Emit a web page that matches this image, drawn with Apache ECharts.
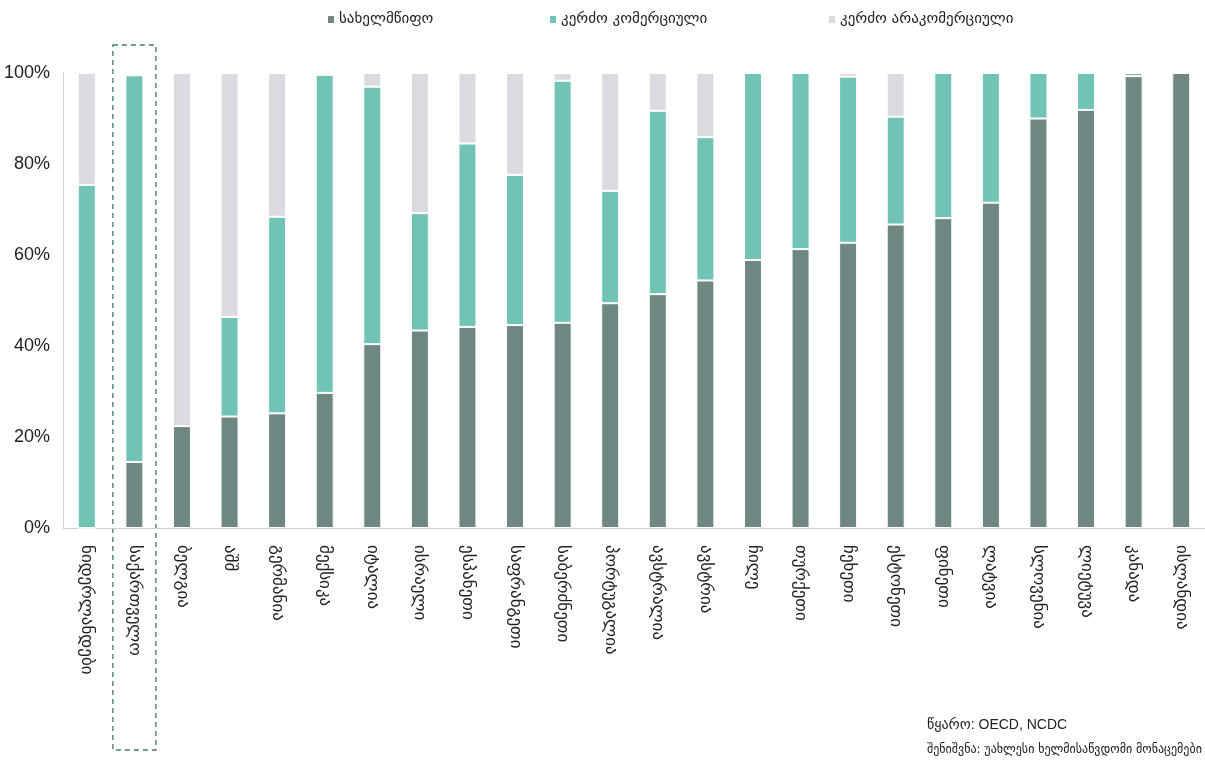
<!DOCTYPE html>
<html>
<head>
<meta charset="utf-8">
<script src="https://cdn.jsdelivr.net/npm/echarts@6/dist/echarts.min.js"></script>
<style>
html,body{margin:0;padding:0;background:#fff;}
#chart{width:1205px;height:772px;}
</style>
</head>
<body>
<div id="chart"></div>
<script>
const categories = ['ნიდერლანდები','საქართველო','ბელგია','აშშ','გერმანია','მექსიკა','იტალია','ისრაელი','ესპანეთი','საფრანგეთი','საბერძნეთი','პორტუგალია','ავსტრალია','ავსტრია','ჩილე','თურქეთი','ჩეხეთი','ესტონეთი','ფინეთი','ლატვია','სლოვენია','ლიეტუვა','კანადა','ისლანდია'];
const seriesNames = ['სახელმწიფო','კერძო კომერციული','კერძო არაკომერციული'];
const stateShare = [0,14.5,22.4,24.5,25.2,29.7,40.4,43.4,44.2,44.6,45.1,49.4,51.4,54.4,58.9,61.3,62.7,66.7,68.1,71.5,90.0,91.9,99.3,100];
const commercialShare = [75.4,85.0,0,21.9,43.2,69.9,56.6,25.8,40.3,33.0,53.2,24.7,40.3,31.5,41.1,38.7,36.5,23.7,31.9,28.5,10.0,8.1,0.7,0];
const nonCommercialShare = [24.6,0.5,77.6,53.6,31.6,0.4,3.0,30.8,15.5,22.4,1.7,25.9,8.3,14.1,0,0,0.8,9.6,0,0,0,0,0,0];
const yTicks = [0,20,40,60,80,100];
const sourceLines = ['წყარო: OECD, NCDC','შენიშვნა: უახლესი ხელმისაწვდომი მონაცემები'];

const colors = ['#6e8783','#70c3b5','#dcdae1'];
const geoFont = '"DejaVu Sans", "Noto Sans", sans-serif';
const numFont = '"Liberation Sans Narrow", "Liberation Sans", Arial, sans-serif';

const chart = echarts.init(document.getElementById('chart'), null, {renderer:'canvas'});
const mk = (name, data, i) => ({
  name, type:'bar', stack:'total', data, barWidth:18,
  itemStyle:{color:colors[i], borderColor:'#ffffff', borderWidth:1},
  emphasis:{disabled:true}
});
const legendLefts = [326, 548, 827];
chart.setOption({
  animation:false,
  color:colors,
  legend: seriesNames.map((n,i)=>({
    data:[n], left:legendLefts[i], top:12, padding:0, icon:'rect', itemWidth:8, itemHeight:9, itemGap:4,
    textStyle:{fontFamily:geoFont, fontSize:15, color:'#222', padding:[0,0,0,-1]}
  })),
  grid:{left:63, top:73, width:1146, height:455, containLabel:false},
  xAxis:{
    type:'category', data:categories,
    axisLine:{lineStyle:{color:'#d0d0d0', width:1}},
    axisTick:{show:false},
    axisLabel:{rotate:-90, interval:0, margin:17, fontFamily:geoFont, fontSize:17, color:'#222'}
  },
  yAxis:{
    type:'value', min:0, max:100, interval:20,
    axisLine:{show:true, lineStyle:{color:'#d0d0d0', width:1}},
    axisTick:{show:false},
    splitLine:{show:false},
    axisLabel:{formatter:v=> yTicks.includes(v)? v+'%':'', fontFamily:numFont, fontSize:18, color:'#222', margin:13}
  },
  series:[mk(seriesNames[0], stateShare,0), mk(seriesNames[1], commercialShare,1), mk(seriesNames[2], nonCommercialShare,2)]
});

const cx = chart.convertToPixel({xAxisIndex:0}, categories[1]);
chart.setOption({
  graphic:[
    {type:'rect', shape:{x:cx-21.5, y:45, width:43, height:705}, style:{fill:'none', stroke:'#3f7b6b', lineWidth:1.3, lineDash:[5,4]}, silent:true},
    {type:'text', left:927, top:718, style:{text:sourceLines[0], font:'14px '+numFont+', '+geoFont, fill:'#222'}},
    {type:'text', left:927, top:744, style:{text:sourceLines[1], font:'12px '+geoFont, fill:'#222'}}
  ]
});
</script>
</body>
</html>
